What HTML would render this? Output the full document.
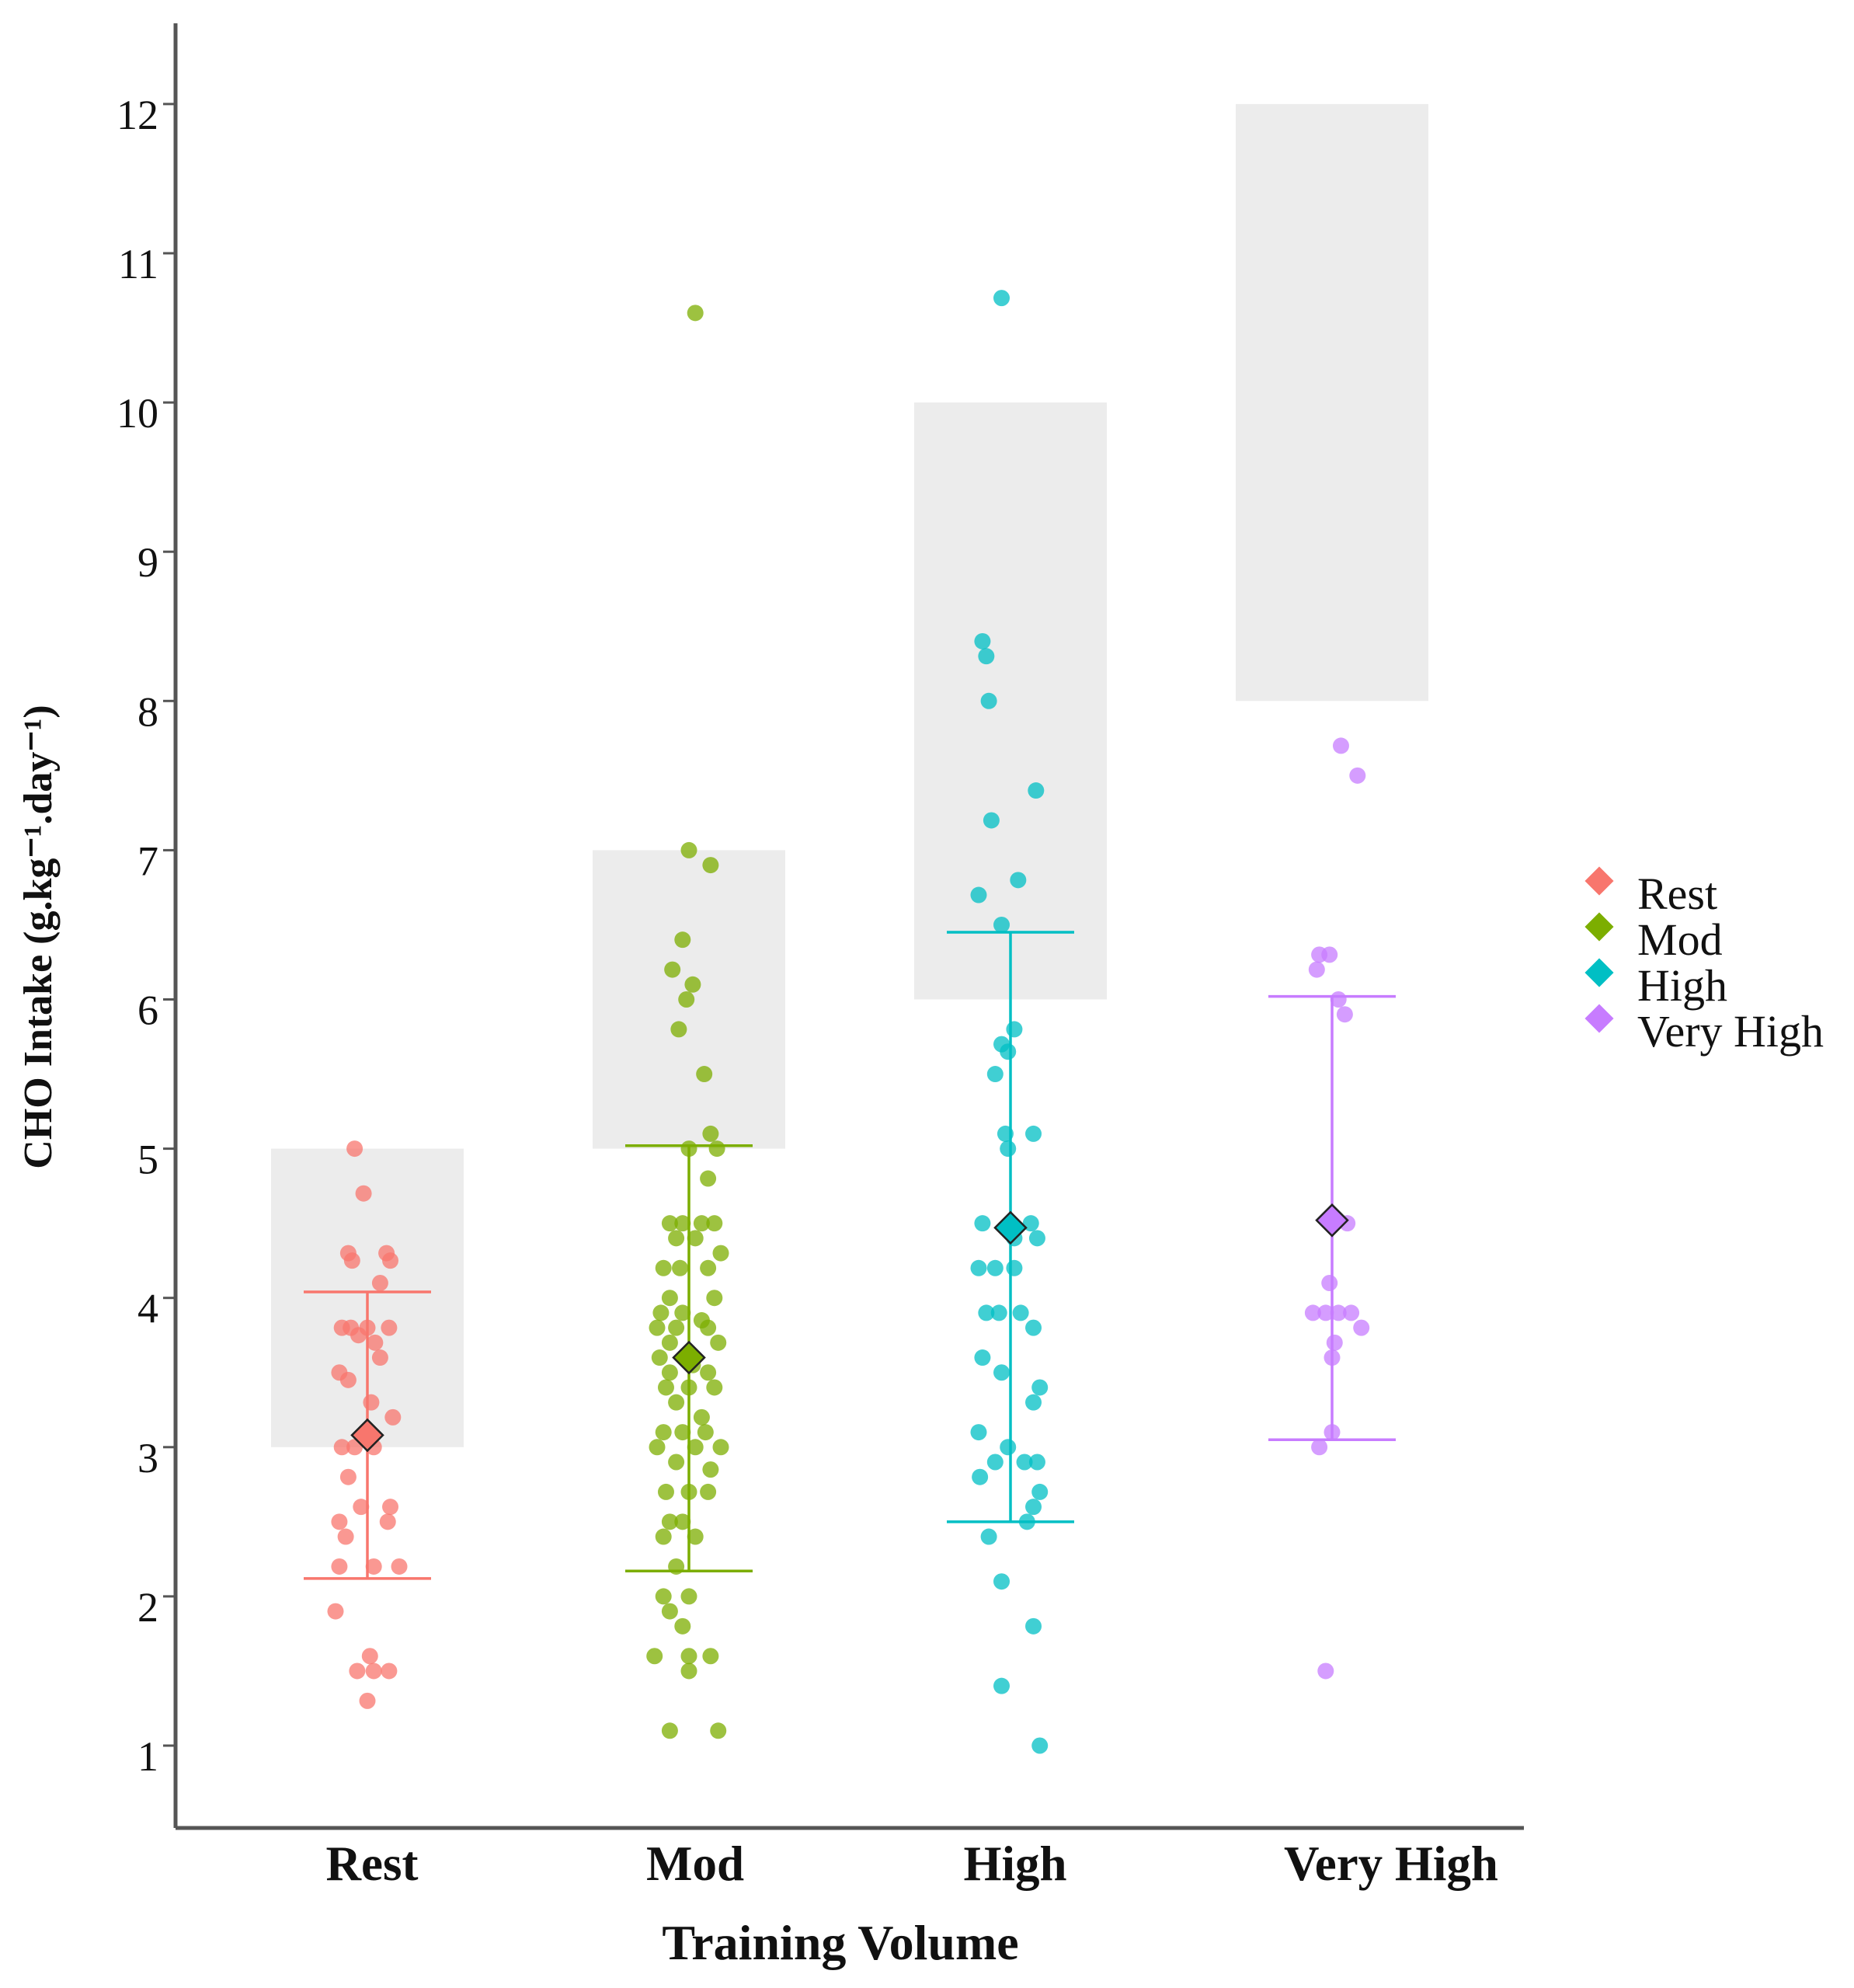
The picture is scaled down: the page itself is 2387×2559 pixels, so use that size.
<!DOCTYPE html>
<html><head><meta charset="utf-8"><style>
body{margin:0;background:#fff}
svg{display:block;font-family:"Liberation Serif",serif}
</style></head><body>
<svg id="chart" width="2387" height="2559" viewBox="0 0 2387 2559">
<g id="bands"></g>
<g id="axes"></g>
<g id="points"></g>
<g id="errs"></g>
<g id="legend"></g>
</svg>
<script>
const categories = ["Rest","Mod","High","Very High"];
const colors = ["#F8766D","#7CAE00","#00BFC4","#C77CFF"];
const rangeLow = [3,5,6,8];
const rangeHigh = [5,7,10,12];
const means = [3.08,3.6,4.47,4.52];
const sdLow = [2.12,2.17,2.5,3.05];
const sdHigh = [4.04,5.02,6.45,6.02];
const yTicks = [1,2,3,4,5,6,7,8,9,10,11,12];
// jitter offsets (display units, relative to group centre) and values
const restDx=[-10,-3,-15,-12,15,18,10,-20,-13,-7,0,6,17,10,-22,-15,3,20,-20,-10,5,-15,-5,18,-22,16,-17,-22,5,25,-25,2,-8,5,17,0];
const restV=[5.0,4.7,4.3,4.25,4.3,4.25,4.1,3.8,3.8,3.75,3.8,3.7,3.8,3.6,3.5,3.45,3.3,3.2,3.0,3.0,3.0,2.8,2.6,2.6,2.5,2.5,2.4,2.2,2.2,2.2,1.9,1.6,1.5,1.5,1.5,1.3];
const modDx=[5,0,17,-5,-13,3,-2,-8,12,17,0,22,15,-15,-5,10,20,-10,5,25,-20,-7,15,-15,20,-22,-5,10,-25,-10,15,-15,23,-23,3,-15,15,-18,0,20,-10,10,-20,-5,13,-25,5,25,-10,17,-18,0,15,-15,-5,-20,5,-10,-20,0,-15,-5,-27,0,17,0,-15,23];
const modV=[10.6,7.0,6.9,6.4,6.2,6.1,6.0,5.8,5.5,5.1,5.0,5.0,4.8,4.5,4.5,4.5,4.5,4.4,4.4,4.3,4.2,4.2,4.2,4.0,4.0,3.9,3.9,3.85,3.8,3.8,3.8,3.7,3.7,3.6,3.55,3.5,3.5,3.4,3.4,3.4,3.3,3.2,3.1,3.1,3.1,3.0,3.0,3.0,2.9,2.85,2.7,2.7,2.7,2.5,2.5,2.4,2.4,2.2,2.0,2.0,1.9,1.8,1.6,1.6,1.6,1.5,1.1,1.1];
const highDx=[-7,-22,-19,-17,20,-15,-25,6,-7,3,-7,-2,-12,18,-4,-2,-22,16,21,3,-25,-12,3,-19,-9,8,18,-22,-7,23,18,-25,-2,-12,11,21,-24,23,18,13,-17,-7,18,-7,23];
const highV=[10.7,8.4,8.3,8.0,7.4,7.2,6.7,6.8,6.5,5.8,5.7,5.65,5.5,5.1,5.1,5.0,4.5,4.5,4.4,4.4,4.2,4.2,4.2,3.9,3.9,3.9,3.8,3.6,3.5,3.4,3.3,3.1,3.0,2.9,2.9,2.9,2.8,2.7,2.6,2.5,2.4,2.1,1.8,1.4,1.0];
const vhDx=[7,20,-10,-2,-12,5,10,12,-2,-15,-5,5,15,23,2,0,0,-10,-5];
const vhV=[7.7,7.5,6.3,6.3,6.2,6.0,5.9,4.5,4.1,3.9,3.9,3.9,3.9,3.8,3.7,3.6,3.1,3.0,1.5];
const groupDx=[restDx,modDx,highDx,vhDx];
const groupV=[restV,modV,highV,vhV];
const labelShift=[6,8,6,76];

const NS="http://www.w3.org/2000/svg";
const x0=226, xEnd=1962, yTop=30, yAxis=2353;
const xs=i=>473+i*414;
const ys=v=>2247-(v-1)*192.1;
const dxs=d=>d*1.64;
function mk(tag,attrs,parent){const e=document.createElementNS(NS,tag);for(const k in attrs)e.setAttribute(k,attrs[k]);parent.appendChild(e);return e;}
const bands=document.getElementById('bands'),axes=document.getElementById('axes'),pts=document.getElementById('points'),errs=document.getElementById('errs'),leg=document.getElementById('legend');

categories.forEach((c,i)=>{
  const r=mk('rect',{x:xs(i)-124,y:ys(rangeHigh[i]),width:248,height:ys(rangeLow[i])-ys(rangeHigh[i]),fill:'#ececec'},bands);
  
  
});

mk('line',{x1:x0,y1:yTop,x2:x0,y2:yAxis,stroke:'#555','stroke-width':5},axes);
mk('line',{x1:x0,y1:yAxis,x2:xEnd,y2:yAxis,stroke:'#555','stroke-width':5},axes);
yTicks.forEach(t=>{
  mk('line',{x1:x0-16,y1:ys(t),x2:x0,y2:ys(t),stroke:'#555','stroke-width':3},axes);
  const tx=mk('text',{x:204,y:ys(t)+32,'text-anchor':'end','font-size':54,fill:'#111'},axes);
  tx.textContent=t;
  
  
});
categories.forEach((c,i)=>{
  const tx=mk('text',{x:xs(i)+labelShift[i],y:2420,'text-anchor':'middle','font-size':63,'font-weight':'bold',fill:'#111'},axes);
  tx.textContent=c;
  
  
});
const xt=mk('text',{x:1082,y:2522,'text-anchor':'middle','font-size':64,'font-weight':'bold',fill:'#111'},axes);
xt.textContent='Training Volume';


const yt=mk('text',{x:0,y:0,'text-anchor':'middle','font-size':52,'font-weight':'bold',fill:'#111',transform:'translate(66,1206) rotate(-90)'},axes);
yt.textContent='CHO Intake (g.kg\u207B\u00B9.day\u207B\u00B9)';



groupV.forEach((vals,g)=>{
  vals.forEach((v,j)=>{
    const c=mk('circle',{cx:xs(g)+dxs(groupDx[g][j]),cy:ys(v),r:10.5,fill:colors[g],'fill-opacity':0.75},pts);
    
    
  });
});

categories.forEach((c,i)=>{
  const cx=xs(i);
  mk('line',{x1:cx,y1:ys(sdLow[i]),x2:cx,y2:ys(sdHigh[i]),stroke:colors[i],'stroke-width':3.5},errs);
  mk('line',{x1:cx-82,y1:ys(sdLow[i]),x2:cx+82,y2:ys(sdLow[i]),stroke:colors[i],'stroke-width':3.5},errs);
  mk('line',{x1:cx-82,y1:ys(sdHigh[i]),x2:cx+82,y2:ys(sdHigh[i]),stroke:colors[i],'stroke-width':3.5},errs);
  const m=ys(means[i]);
  const d=mk('polygon',{points:`${cx},${m-20} ${cx+20},${m} ${cx},${m+20} ${cx-20},${m}`,fill:colors[i],stroke:'#222','stroke-width':2.5},errs);
  
  
});

categories.forEach((c,i)=>{
  const y=1134+i*59;
  const d=mk('polygon',{points:`2059,${y-20} 2079,${y} 2059,${y+20} 2039,${y}`,fill:colors[i],stroke:'#fff','stroke-width':2},leg);
  
  
  const t=mk('text',{x:2108,y:y+36,'font-size':58,fill:'#111'},leg);
  t.textContent=c;
  
  
});
</script>
</body></html>
